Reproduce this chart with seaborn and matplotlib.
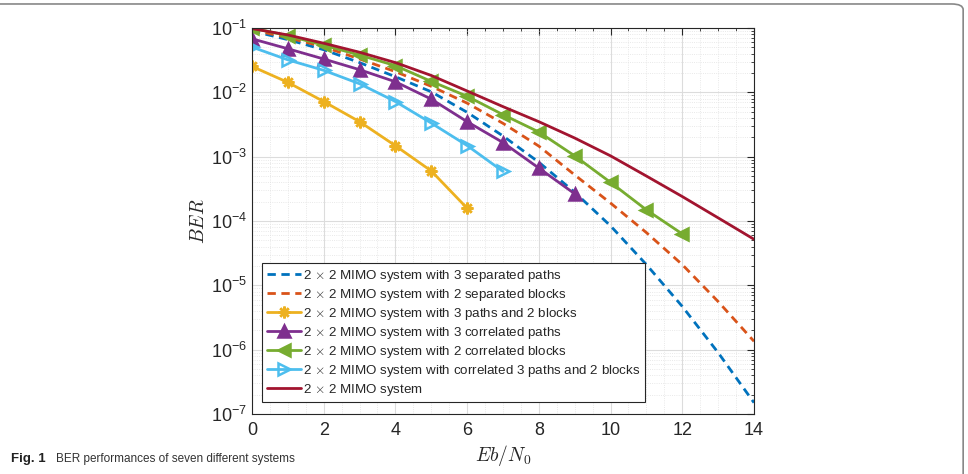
import numpy as np
import pandas as pd
import seaborn as sns
import matplotlib.pyplot as plt
from matplotlib.ticker import FixedLocator, FuncFormatter, MultipleLocator, NullFormatter
from matplotlib.patches import FancyBboxPatch

# Eb/N0 points
snr = list(range(0, 15))

# BER values
ber_sep_paths = [0.09, 0.066, 0.046, 0.029, 0.0175, 0.0102, 0.0049, 0.0021, 0.00082,
                 0.00028, 8.4e-5, 2.1e-5, 4.7e-6, 9e-7, 1.5e-7]
ber_sep_blocks = [0.094, 0.071, 0.051, 0.033, 0.021, 0.0124, 0.0068, 0.0033, 0.00146,
                  0.00052, 0.00019, 6.6e-5, 2.1e-5, 5.6e-6, 1.35e-6]
ber_paths_blocks = [0.0253, 0.0143, 0.0072, 0.0035, 0.00148, 0.0006, 0.000158]
ber_corr_paths = [0.068, 0.0476, 0.033, 0.0225, 0.0146, 0.00785, 0.0035, 0.00166,
                  0.000665, 0.000265]
ber_corr_blocks = [0.1, 0.076, 0.054, 0.038, 0.026, 0.0148, 0.0087, 0.0045, 0.00242,
                   0.00103, 0.000398, 0.000149, 6.3e-5]
ber_corr_both = [0.0506, 0.032, 0.022, 0.0136, 0.0072, 0.00333, 0.00149, 0.00059]
ber_mimo = [0.098, 0.078, 0.058, 0.042, 0.029, 0.0183, 0.0105, 0.006, 0.0035,
            0.00195, 0.00103, 0.0005, 0.00024, 0.000112, 5.2e-5]

labels = [r"2 $\times$ 2 MIMO system with 3 separated paths",
          r"2 $\times$ 2 MIMO system with 2 separated blocks",
          r"2 $\times$ 2 MIMO system with 3 paths and 2 blocks",
          r"2 $\times$ 2 MIMO system with 3 correlated paths",
          r"2 $\times$ 2 MIMO system with 2 correlated blocks",
          r"2 $\times$ 2 MIMO system with correlated 3 paths and 2 blocks",
          r"2 $\times$ 2 MIMO system"]

# y axis decades shown
y_decades = [-7, -6, -5, -4, -3, -2, -1]

sns.set_style("white")
plt.rcParams['font.family'] = ['Liberation Sans', 'DejaVu Sans']
plt.rcParams['mathtext.fontset'] = 'cm'

fig = plt.figure(figsize=(9.68, 4.74), dpi=100)
ax = fig.add_axes([0.2603, 0.1266, 0.5186, 0.8143])

asterisk = (8, 2, 0)
series = [
    (ber_sep_paths, '#0072BD', None, (3, 2), 'none'),
    (ber_sep_blocks, '#D95319', None, (3, 2), 'none'),
    (ber_paths_blocks, '#EDB120', asterisk, None, '#EDB120'),
    (ber_corr_paths, '#7E2F8E', '^', None, '#7E2F8E'),
    (ber_corr_blocks, '#77AC30', '<', None, '#77AC30'),
    (ber_corr_both, '#4DBEEE', '>', None, 'none'),
    (ber_mimo, '#A2142F', None, None, 'none'),
]

for (vals, col, mk, dash, fc), lab in zip(series, labels):
    df = pd.DataFrame({'snr': snr[:len(vals)], 'ber': vals})
    kw = dict(color=col, lw=2, label=lab, ax=ax)
    if mk is not None:
        kw.update(marker=mk, markersize=8.5, markerfacecolor=fc, markeredgecolor=col,
                  markeredgewidth=1.8)
    if dash is not None:
        kw.update(linestyle=(0, dash))
    sns.lineplot(data=df, x='snr', y='ber', **kw)

ax.set_yscale('log')
ax.set_xlim(0, 14)
ax.set_ylim(1e-7, 1e-1)
ax.xaxis.set_major_locator(MultipleLocator(2))
ax.xaxis.set_minor_locator(MultipleLocator(0.5))
major_y = [10.0 ** d for d in y_decades]
minor_y = [m * 10.0 ** d for d in y_decades[:-1] for m in range(2, 10)]
ax.yaxis.set_major_locator(FixedLocator(major_y))
ax.yaxis.set_minor_locator(FixedLocator(minor_y))
ax.yaxis.set_minor_formatter(NullFormatter())
ax.yaxis.set_major_formatter(FuncFormatter(
    lambda v, p: r'$\mathregular{10^{%d}}$' % round(np.log10(v))))

ax.grid(True, which='major', color='#dcdcdc', lw=0.8)
ax.grid(True, which='minor', color='#e2e2e2', lw=0.6, linestyle=':')
ax.set_axisbelow(True)
ax.tick_params(which='both', direction='in', top=True, right=True, colors='#262626',
               labelsize=13)
ax.tick_params(axis='x', which='major', pad=6)
ax.tick_params(which='major', length=5, width=0.8)
ax.tick_params(which='minor', length=2.5, width=0.6)
for s in ax.spines.values():
    s.set_color('#262626')
    s.set_linewidth(0.8)

ax.set_xlabel(r'$Eb/N_0$', fontsize=14, labelpad=3)
ax.set_ylabel(r'$BER$', fontsize=14, labelpad=2)

leg = ax.legend(loc='lower left', bbox_to_anchor=(0.02, 0.03), fontsize=9.6,
                handlelength=2.6, handletextpad=0.15, labelspacing=0.22,
                borderpad=0.35, borderaxespad=0, frameon=True, fancybox=False,
                edgecolor='#262626', framealpha=1)
leg.get_frame().set_linewidth(0.8)

# page frame and caption
frame = FancyBboxPatch((-0.05, -0.5), 1.045, 1.4916, boxstyle='round,pad=0,rounding_size=0.012',
                       transform=fig.transFigure, fill=False, edgecolor='#888888', lw=1.2,
                       clip_on=False)
fig.patches.append(frame)
fig.text(0.011, 0.018, 'Fig. 1', fontsize=9.5, fontweight='bold', color='#222222', va='bottom')
fig.text(0.058, 0.018, 'BER performances of seven different systems', fontsize=8.5,
         color='#333333', va='bottom')

fig.savefig('out.png', dpi=100)
